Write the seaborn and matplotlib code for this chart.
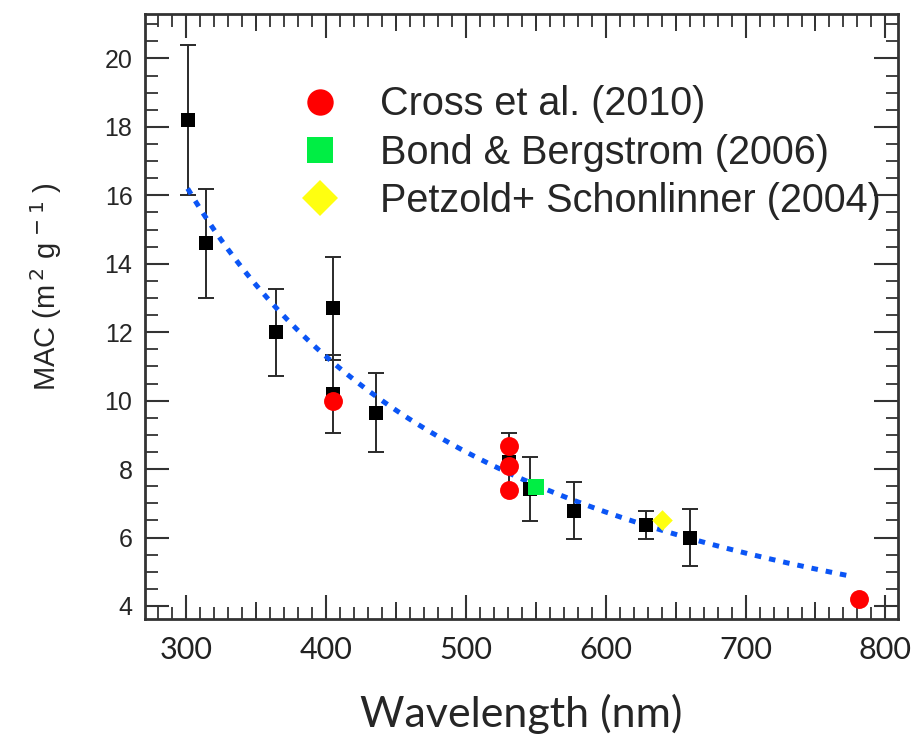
import numpy as np
import pandas as pd
import matplotlib
matplotlib.use("Agg")
import matplotlib.pyplot as plt
import seaborn as sns
from matplotlib.ticker import MultipleLocator
from matplotlib.lines import Line2D

# ---- data ----
black_wl = [301, 314, 364, 405, 405, 436, 531, 546, 577, 629, 660]
black_mac = [18.2, 14.6, 12.0, 12.7, 10.2, 9.65, 8.2, 7.42, 6.78, 6.37, 6.0]
black_err = [2.2, 1.6, 1.27, 1.5, 1.13, 1.15, 0.85, 0.94, 0.83, 0.4, 0.83]

cross_wl = [405, 531, 531, 531, 781]
cross_mac = [10.0, 8.67, 8.09, 7.38, 4.2]

bond_wl = [550]
bond_mac = [7.48]

petzold_wl = [640]
petzold_mac = [6.51]

fit_a = 16.2      # MAC at reference wavelength
fit_ref = 301.0   # reference wavelength (nm)
fit_b = 1.27      # power-law exponent
fit_start, fit_end = 301, 776

legend_labels = ["Cross et al. (2010)", "Bond & Bergstrom (2006)", "Petzold+ Schonlinner (2004)"]
x_ticks = [300, 400, 500, 600, 700, 800]
x_mid_ticks = [350, 450, 550, 650, 750]
y_ticks = [4, 6, 8, 10, 12, 14, 16, 18, 20]

# ---- styling ----
sns.set_style("ticks")
plt.rcParams["font.family"] = ["Liberation Sans", "DejaVu Sans"]
frame_c = "#333333"

fig = plt.figure(figsize=(9.14, 7.37), dpi=100)
ax = fig.add_axes([145 / 914, 1 - 619 / 737, (898 - 145) / 914, (619 - 14) / 737])

# fitted power law curve
fit_x = np.linspace(fit_start, fit_end, 200)
fit_df = pd.DataFrame({"wl": fit_x, "mac": fit_a * (fit_x / fit_ref) ** (-fit_b)})
sns.lineplot(data=fit_df, x="wl", y="mac", ax=ax, color="#0b55f5", lw=3.6,
             linestyle=(0, (1.3, 1.6)), zorder=3, legend=False)

# black squares with error bars
ax.errorbar(black_wl, black_mac, yerr=black_err, fmt="none", ecolor="#2a2a2a",
            elinewidth=1.4, capsize=5.8, capthick=1.4, zorder=2)
bdf = pd.DataFrame({"wl": black_wl, "mac": black_mac})
sns.scatterplot(data=bdf, x="wl", y="mac", ax=ax, marker="s", s=115, color="black",
                edgecolor="black", linewidth=0, zorder=4, legend=False)

cdf = pd.DataFrame({"wl": cross_wl, "mac": cross_mac})
sns.scatterplot(data=cdf, x="wl", y="mac", ax=ax, marker="o", s=185, color="#ff0000",
                linewidth=0, zorder=5, legend=False)
gdf = pd.DataFrame({"wl": bond_wl, "mac": bond_mac})
sns.scatterplot(data=gdf, x="wl", y="mac", ax=ax, marker="s", s=130, color="#00ee44",
                linewidth=0, zorder=5, legend=False)
ydf = pd.DataFrame({"wl": petzold_wl, "mac": petzold_mac})
sns.scatterplot(data=ydf, x="wl", y="mac", ax=ax, marker="D", s=110, color="#ffff10",
                linewidth=0, zorder=5, legend=False)

# axes
ax.set_xlim(270.5, 809)
ax.set_ylim(3.62, 21.3)
ax.set_xticks(x_ticks)
ax.set_yticks(y_ticks)
ax.xaxis.set_minor_locator(MultipleLocator(10))
ax.yaxis.set_minor_locator(MultipleLocator(0.5))
ax.tick_params(which="both", direction="in", top=True, right=True, color=frame_c)
ax.tick_params(which="major", length=17, width=1.5)
ax.tick_params(which="minor", length=9, width=1.3)
ax.tick_params(axis="y", which="major", labelsize=18, pad=9)
ax.tick_params(axis="x", which="major", labelsize=22, pad=12)
for lab in ax.get_xticklabels():
    lab.set_family(["Lato", "DejaVu Sans"])
    lab.set_color("#222222")
for s in ax.spines.values():
    s.set_linewidth(2)
    s.set_color(frame_c)

# medium-length ticks at the 50 nm marks (bottom and top)
for loc in ("bottom", "top"):
    sec = ax.secondary_xaxis(loc)
    sec.set_xticks(x_mid_ticks)
    sec.tick_params(direction="in", length=12.5, width=1.4, color=frame_c,
                    labelbottom=False, labeltop=False)
    sec.minorticks_off()
    for s in sec.spines.values():
        s.set_visible(False)

ax.set_xlabel("Wavelength (nm)", fontsize=31, family=["Lato", "DejaVu Sans"], labelpad=22)
ax.set_ylabel("MAC (m$^{\\,2}$ g$^{\\,-1}$ )", fontsize=21)
ax.yaxis.set_label_coords(-0.107, 0.55)

# legend
handles = [
    Line2D([], [], marker="o", ls="none", color="#ff0000", markersize=19, markeredgewidth=0),
    Line2D([], [], marker="s", ls="none", color="#00ee44", markersize=19, markeredgewidth=0),
    Line2D([], [], marker="D", ls="none", color="#ffff10", markersize=18, markeredgewidth=0),
]
ax.legend(handles, legend_labels, loc="upper left", bbox_to_anchor=(0.207, 0.882),
          frameon=False, fontsize=28.5, labelspacing=0.26, handlelength=0.95,
          handletextpad=1.05, borderaxespad=0, borderpad=0)

fig.savefig("out.png", dpi=100)
